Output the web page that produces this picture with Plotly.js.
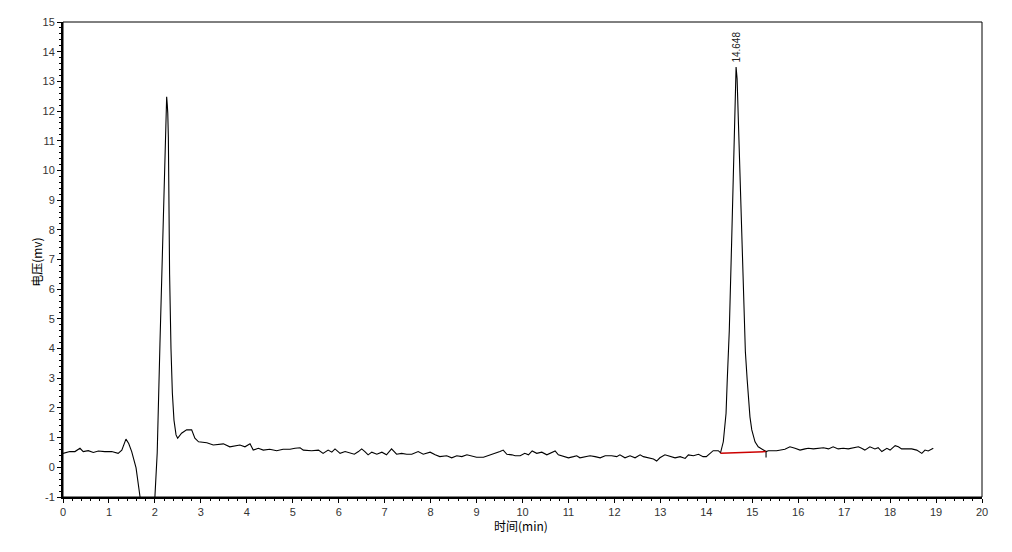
<!DOCTYPE html>
<html><head><meta charset="utf-8">
<script src="https://cdn.plot.ly/plotly-3.0.1.min.js"></script>
<style>html,body{margin:0;padding:0;background:#fff}#chart{width:1012px;height:552px}</style>
</head><body><div id="chart"></div>
<script>
const timeMin = [0.00,0.15,0.26,0.37,0.44,0.55,0.66,0.77,0.91,1.06,1.20,1.28,1.37,1.43,1.495,1.59,1.676,1.75,1.85,1.95,2.00,2.05,2.11,2.16,2.198,2.22,2.24,2.256,2.27,2.28,2.293,2.30,2.32,2.35,2.38,2.415,2.46,2.495,2.58,2.69,2.80,2.87,2.95,3.13,3.27,3.49,3.63,3.85,3.96,4.07,4.14,4.25,4.36,4.50,4.65,4.79,4.94,5.05,5.16,5.23,5.41,5.56,5.66,5.77,5.85,5.92,6.03,6.14,6.25,6.34,6.43,6.50,6.57,6.64,6.72,6.83,6.94,7.04,7.15,7.26,7.37,7.48,7.59,7.73,7.84,7.99,8.10,8.20,8.35,8.46,8.57,8.68,8.79,8.89,9.00,9.15,9.26,9.40,9.51,9.58,9.66,9.77,9.84,9.95,10.05,10.13,10.21,10.31,10.42,10.53,10.60,10.71,10.78,10.89,11.00,11.11,11.18,11.25,11.36,11.47,11.58,11.69,11.80,11.94,12.05,12.12,12.23,12.34,12.45,12.56,12.63,12.74,12.85,12.92,12.99,13.10,13.21,13.32,13.43,13.54,13.61,13.72,13.83,13.93,14.00,14.15,14.26,14.31,14.37,14.40,14.43,14.456,14.50,14.55,14.60,14.63,14.648,14.67,14.70,14.75,14.80,14.85,14.89,14.91,14.95,14.99,15.06,15.13,15.24,15.30,15.35,15.53,15.71,15.82,15.93,16.04,16.15,16.22,16.33,16.44,16.55,16.66,16.76,16.87,16.98,17.09,17.20,17.31,17.38,17.45,17.56,17.67,17.74,17.82,17.93,18.00,18.11,18.18,18.25,18.36,18.47,18.58,18.69,18.76,18.83,18.94];
const voltageMv = [0.47,0.53,0.53,0.64,0.53,0.56,0.50,0.55,0.53,0.53,0.47,0.58,0.95,0.80,0.53,-0.02,-0.99,-1.8,-2.2,-1.6,-1.0,0.48,4.15,7.3,9.68,10.35,11.9,12.48,12.2,11.93,11.13,9.68,6.5,4.0,2.5,1.59,1.09,0.98,1.15,1.26,1.26,0.98,0.86,0.83,0.75,0.79,0.69,0.75,0.69,0.79,0.58,0.64,0.58,0.61,0.56,0.61,0.61,0.64,0.66,0.58,0.56,0.58,0.47,0.58,0.51,0.62,0.47,0.53,0.47,0.44,0.53,0.62,0.53,0.42,0.51,0.44,0.51,0.42,0.62,0.44,0.47,0.44,0.44,0.53,0.44,0.51,0.42,0.36,0.39,0.32,0.39,0.36,0.42,0.39,0.34,0.34,0.39,0.47,0.53,0.58,0.44,0.42,0.39,0.39,0.47,0.42,0.55,0.47,0.51,0.42,0.47,0.55,0.42,0.36,0.32,0.36,0.39,0.32,0.36,0.39,0.36,0.32,0.39,0.39,0.36,0.42,0.32,0.39,0.32,0.42,0.36,0.32,0.28,0.21,0.32,0.42,0.36,0.32,0.36,0.30,0.42,0.39,0.44,0.36,0.36,0.56,0.56,0.49,0.86,1.26,1.82,2.94,4.6,7.5,11.0,12.9,13.48,13.1,11.6,8.6,5.8,3.9,2.94,2.49,1.70,1.26,0.86,0.69,0.58,0.53,0.56,0.56,0.61,0.69,0.64,0.58,0.62,0.64,0.62,0.64,0.66,0.62,0.69,0.62,0.64,0.62,0.66,0.69,0.64,0.58,0.69,0.62,0.66,0.53,0.64,0.58,0.73,0.69,0.62,0.62,0.62,0.58,0.47,0.58,0.55,0.64];

const baselineTime = [14.31, 15.30];
const baselineMv = [0.47, 0.53];
const endMarkTime = [15.30, 15.30];
const endMarkMv = [0.53, 0.33];

const peakTime = 14.648;
const peakLabel = "14.648";
const peakLabelMv = 14.14;

const xTickVals = [0,1,2,3,4,5,6,7,8,9,10,11,12,13,14,15,16,17,18,19,20];
const yTickVals = [-1,0,1,2,3,4,5,6,7,8,9,10,11,12,13,14,15];
const xTitle = '时间(min)';
const yTitle = '电压(mv)';

const traces = [
  {x: timeMin, y: voltageMv, type:'scatter', mode:'lines', line:{color:'#000', width:1.1}, hoverinfo:'skip'},
  {x: baselineTime, y: baselineMv, type:'scatter', mode:'lines', line:{color:'#cc0000', width:1.5}, hoverinfo:'skip'},
  {x: endMarkTime, y: endMarkMv, type:'scatter', mode:'lines', line:{color:'#000', width:1.1}, hoverinfo:'skip'}
];

const tickFont = {family:'"Liberation Sans", Arial, sans-serif', size:11, color:'#333'};
const titleFont = {family:'"Noto Sans CJK SC", sans-serif', size:12, color:'#000'};

const layout = {
  width:1012, height:552,
  margin:{l:63, r:30, t:22, b:55, pad:0},
  paper_bgcolor:'#fff', plot_bgcolor:'#fff',
  showlegend:false,
  xaxis:{
    range:[0,20], tickvals:xTickVals, ticktext:xTickVals.map(String),
    ticks:'outside', ticklen:4, tickwidth:1, tickcolor:'#000',
    minor:{dtick:0.2, tick0:0, ticks:'outside', ticklen:2, tickwidth:1, tickcolor:'#000', showgrid:false},
    showline:true, linewidth:2, linecolor:'#000', mirror:false,
    showgrid:false, zeroline:false, tickfont:tickFont
  },
  yaxis:{
    range:[-1,15], tickvals:yTickVals, ticktext:yTickVals.map(String),
    ticks:'outside', ticklen:4, tickwidth:1, tickcolor:'#000',
    minor:{dtick:0.2, tick0:0, ticks:'outside', ticklen:2, tickwidth:1, tickcolor:'#000', showgrid:false},
    showline:true, linewidth:2, linecolor:'#000', mirror:false,
    showgrid:false, zeroline:false, tickfont:tickFont
  },
  shapes:[
    {type:'rect', xref:'paper', yref:'paper', x0:0, x1:1, y0:0, y1:1, line:{color:'#000', width:1}, fillcolor:'rgba(0,0,0,0)', layer:'above'}
  ],
  annotations:[
    {x:peakTime, y:peakLabelMv, xref:'x', yref:'y', text:peakLabel, showarrow:false, textangle:-90,
     font:{family:'"Liberation Sans", Arial, sans-serif', size:10, color:'#222'}},
    {x:0.498, y:-0.061, xref:'paper', yref:'paper', xanchor:'center', yanchor:'middle', text:xTitle, showarrow:false, font:titleFont},
    {x:-0.0283, y:0.495, xref:'paper', yref:'paper', xanchor:'center', yanchor:'middle', text:yTitle, showarrow:false, textangle:-90, font:titleFont}
  ]
};

Plotly.newPlot('chart', traces, layout, {staticPlot:true, displayModeBar:false});
</script>
</body></html>
